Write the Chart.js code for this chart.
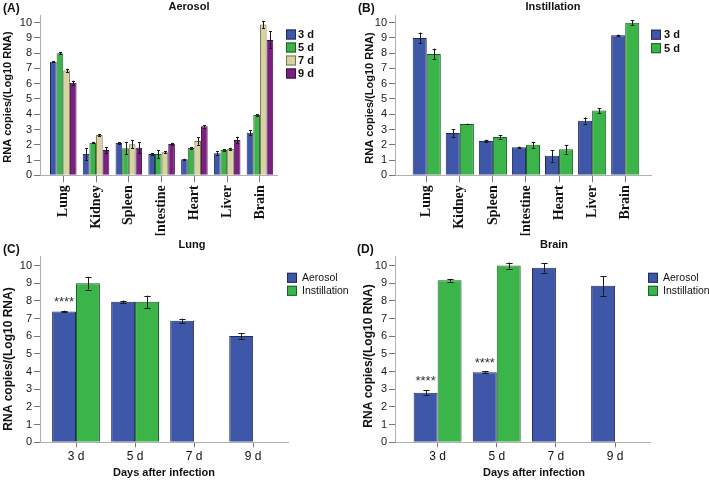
<!DOCTYPE html>
<html><head><meta charset="utf-8">
<script src="https://cdn.jsdelivr.net/npm/chart.js@4.4.0/dist/chart.umd.min.js"></script>
<style>
html,body{margin:0;padding:0;background:#fff;}
#wrap{position:relative;width:709px;height:481px;overflow:hidden;background:#fff;}
canvas{position:absolute;left:0;top:0;}
</style></head><body>
<div id="wrap">
<canvas id="cA" width="709" height="481"></canvas>
<canvas id="cB" width="709" height="481"></canvas>
<canvas id="cC" width="709" height="481"></canvas>
<canvas id="cD" width="709" height="481"></canvas>
</div>
<script>
// ---------- data ----------
const organs = ['Lung', 'Kidney', 'Spleen', 'Intestine', 'Heart', 'Liver', 'Brain'];
const dayLabels = ['3 d', '5 d', '7 d', '9 d'];
const yTicks = [0, 1, 2, 3, 4, 5, 6, 7, 8, 9, 10];

// (A) Aerosol, per organ
const aerosol3d = [7.44, 1.40, 2.12, 1.40, 1.05, 1.44, 2.79];
const aerosol5d = [7.99, 2.14, 1.77, 1.40, 1.79, 1.66, 3.95];
const aerosol7d = [6.86, 2.64, 2.03, 1.51, 2.25, 1.72, 9.87];
const aerosol9d = [6.07, 1.66, 1.81, 2.05, 3.21, 2.31, 8.87];
const aerosol3dErr = [0.05, 0.38, 0.04, 0.06, 0.03, 0.13, 0.15];
const aerosol5dErr = [0.07, 0.05, 0.38, 0.25, 0.04, 0.04, 0.05];
const aerosol7dErr = [0.12, 0.06, 0.25, 0.05, 0.25, 0.08, 0.25];
const aerosol9dErr = [0.13, 0.17, 0.35, 0.08, 0.08, 0.22, 0.55];

// (B) Instillation, per organ
const instill3d = [9.00, 2.77, 2.25, 1.83, 1.28, 3.58, 9.17];
const instill5d = [7.95, 3.36, 2.51, 2.00, 1.70, 4.24, 10.00];
const instill3dErr = [0.35, 0.26, 0.08, 0.05, 0.38, 0.20, 0.05];
const instill5dErr = [0.35, 0.03, 0.12, 0.20, 0.28, 0.15, 0.15];

// (C) Lung, per day
const lungAerosol = [7.40, 7.95, 6.87, 6.02];
const lungAerosolErr = [0.05, 0.07, 0.13, 0.17];
const lungInstill = [9.00, 7.95, null, null];
const lungInstillErr = [0.36, 0.35, null, null];
const lungSig = ['****', '', '', ''];

// (D) Brain, per day
const brainAerosol = [2.81, 3.97, 9.87, 8.85];
const brainAerosolErr = [0.15, 0.05, 0.27, 0.55];
const brainInstill = [9.17, 10.00, null, null];
const brainInstillErr = [0.08, 0.17, null, null];
const brainSig = ['****', '****', '', ''];

// ---------- styles ----------
const SANS = "'Liberation Sans', Arial, Helvetica, sans-serif";
const SERIF = "'Liberation Serif', 'Times New Roman', serif";
Chart.defaults.font.family = SANS;
const COL = {blue: '#3f57a8', green: '#3bb54a', tan: '#d8d3a1', purple: '#7b1f80'};
const BRD = {blue: '#1f2b5c', green: '#1e5f28', tan: '#77734f', purple: '#3d0e40'};
const CW = 709, CH = 481;

const overlay = {
  id: 'overlay',
  afterDatasetsDraw(chart) {
    const ctx = chart.ctx, yS = chart.scales.y;
    chart.data.datasets.forEach((ds, di) => {
      const meta = chart.getDatasetMeta(di);
      meta.data.forEach((bar, j) => {
        const pt = ds.data[j];
        const e = ds.errors ? ds.errors[pt.x] : null;
        let top = pt.y;
        if (e) {
          const yT = yS.getPixelForValue(pt.y + e), yB = yS.getPixelForValue(pt.y - e);
          const cap = Math.max(1.5, bar.width * 0.13);
          const x = Math.round(bar.x) + 0.5;
          ctx.save();
          ctx.strokeStyle = '#1a1a1a'; ctx.lineWidth = 1;
          ctx.beginPath();
          ctx.moveTo(x, yT); ctx.lineTo(x, yB);
          ctx.moveTo(x - cap, Math.round(yT) + 0.5); ctx.lineTo(x + cap, Math.round(yT) + 0.5);
          ctx.moveTo(x - cap, Math.round(yB) + 0.5); ctx.lineTo(x + cap, Math.round(yB) + 0.5);
          ctx.stroke();
          ctx.restore();
          top = pt.y + e;
        }
        if (ds.sig && ds.sig[pt.x]) {
          const py = yS.getPixelForValue(top) - 12;
          ctx.save();
          ctx.font = '13px ' + SANS; ctx.fillStyle = '#333';
          ctx.textAlign = 'center'; ctx.textBaseline = 'alphabetic';
          ctx.fillText(ds.sig[pt.x], bar.x, py + 7.4);
          ctx.restore();
        }
      });
    });
  },
  afterDraw(chart) {
    const p = chart.options.plugins.overlay, ctx = chart.ctx;
    (p.texts || []).forEach(t => {
      ctx.save();
      ctx.font = t.font; ctx.fillStyle = t.color || '#111';
      ctx.textAlign = t.align || 'center'; ctx.textBaseline = 'middle';
      ctx.translate(t.x, t.y);
      if (t.rot) ctx.rotate(t.rot);
      ctx.fillText(t.text, 0, 0);
      ctx.restore();
    });
    const lg = p.legend;
    if (lg) {
      chart.data.datasets.forEach((ds, i) => {
        const cy = lg.y + i * lg.dy;
        ctx.save();
        ctx.fillStyle = ds.backgroundColor;
        ctx.fillRect(lg.x, cy - lg.size / 2, lg.size, lg.size);
        ctx.strokeStyle = ds.borderColor; ctx.lineWidth = 1;
        ctx.strokeRect(lg.x + 0.5, cy - lg.size / 2 + 0.5, lg.size - 1, lg.size - 1);
        ctx.font = lg.font; ctx.fillStyle = '#111';
        ctx.textAlign = 'left'; ctx.textBaseline = 'middle';
        ctx.fillText(ds.label, lg.tx, cy + 0.5);
        ctx.restore();
      });
    }
  }
};

function makePanel(id, p) {
  const yW = 40;
  const datasets = p.series.map(s => ({
    label: s.label,
    data: s.values.map((v, i) => ({x: i, y: v})).filter(d => d.y !== null),
    errors: s.errors,
    sig: s.sig,
    backgroundColor: s.color,
    borderColor: s.border,
    borderWidth: 1,
    categoryPercentage: p.catPct,
    barPercentage: 1
  }));
  return new Chart(document.getElementById(id), {
    type: 'bar',
    data: {datasets},
    plugins: [overlay],
    options: {
      responsive: false,
      animation: false,
      layout: {padding: {left: p.area.left - yW, top: p.area.top, right: CW - p.area.right, bottom: CH - p.area.bottom - p.xH}},
      plugins: {
        legend: {display: false},
        tooltip: {enabled: false},
        title: {display: false},
        overlay: {texts: p.texts, legend: p.legend}
      },
      scales: {
        x: {
          type: 'linear',
          offset: false,
          min: p.xmin, max: p.xmax,
          afterBuildTicks: s => { s.ticks = p.labels.map((l, i) => ({value: i})); },
          afterFit: s => { s.height = p.xH; },
          grid: {display: true, offset: false, drawOnChartArea: false, drawTicks: true, tickLength: p.xTickLen, color: '#777'},
          border: {display: true, color: '#b0b0b0', width: 1},
          ticks: {
            autoSkip: false,
            minRotation: p.rot, maxRotation: p.rot,
            padding: p.xPad,
            color: '#111',
            font: p.xFont,
            callback: v => p.labels[v]
          }
        },
        y: {
          min: 0, max: 10.5,
          afterBuildTicks: s => { s.ticks = yTicks.map(v => ({value: v})); },
          afterFit: s => { s.width = yW; },
          grid: {display: true, drawOnChartArea: false, drawTicks: true, tickLength: 6, color: '#777'},
          border: {display: true, color: '#b0b0b0', width: 1},
          ticks: {autoSkip: false, padding: 2, color: '#1a1a1a', font: {size: 11, family: SANS}}
        }
      }
    }
  });
}

const UP = -Math.PI / 2;

makePanel('cA', {
  labels: organs,
  area: {left: 40, top: 15, right: 277, bottom: 175.3},
  xmin: -0.71, xmax: 6.52, catPct: 0.81, xH: 60, rot: 90, xTickLen: 7, xPad: 3,
  xFont: {size: 14, weight: 'bold', family: SERIF},
  series: [
    {label: '3 d', values: aerosol3d, errors: aerosol3dErr, color: COL.blue, border: BRD.blue},
    {label: '5 d', values: aerosol5d, errors: aerosol5dErr, color: COL.green, border: BRD.green},
    {label: '7 d', values: aerosol7d, errors: aerosol7dErr, color: COL.tan, border: BRD.tan},
    {label: '9 d', values: aerosol9d, errors: aerosol9dErr, color: COL.purple, border: BRD.purple}
  ],
  texts: [
    {text: '(A)', x: 3, y: 8.5, font: 'bold 12px ' + SANS, align: 'left'},
    {text: 'Aerosol', x: 189, y: 6.5, font: 'bold 11px ' + SANS},
    {text: 'RNA copies/(Log10 RNA)', x: 7.5, y: 97, font: 'bold 11px ' + SANS, rot: UP}
  ],
  legend: {x: 286, y: 34.5, dy: 13, size: 10, tx: 298, font: 'bold 11px ' + SANS}
});

makePanel('cB', {
  labels: organs,
  area: {left: 395, top: 15, right: 651, bottom: 175.3},
  xmin: -0.96, xmax: 6.78, catPct: 0.85, xH: 60, rot: 90, xTickLen: 7, xPad: 3,
  xFont: {size: 14, weight: 'bold', family: SERIF},
  series: [
    {label: '3 d', values: instill3d, errors: instill3dErr, color: COL.blue, border: BRD.blue},
    {label: '5 d', values: instill5d, errors: instill5dErr, color: COL.green, border: BRD.green}
  ],
  texts: [
    {text: '(B)', x: 358, y: 8.5, font: 'bold 12px ' + SANS, align: 'left'},
    {text: 'Instillation', x: 553, y: 6.5, font: 'bold 11px ' + SANS},
    {text: 'RNA copies/(Log10 RNA)', x: 370, y: 98, font: 'bold 11px ' + SANS, rot: UP}
  ],
  legend: {x: 651, y: 34.7, dy: 13.5, size: 10, tx: 664, font: 'bold 11px ' + SANS}
});

makePanel('cC', {
  labels: dayLabels,
  area: {left: 40, top: 256.7, right: 288, bottom: 442.3},
  xmin: -0.61, xmax: 3.59, catPct: 0.81, xH: 30, rot: 0, xTickLen: 5, xPad: 2,
  xFont: {size: 12, family: SANS},
  series: [
    {label: 'Aerosol', values: lungAerosol, errors: lungAerosolErr, sig: lungSig, color: COL.blue, border: BRD.blue},
    {label: 'Instillation', values: lungInstill, errors: lungInstillErr, color: COL.green, border: BRD.green}
  ],
  texts: [
    {text: '(C)', x: 3, y: 250, font: 'bold 12px ' + SANS, align: 'left'},
    {text: 'Lung', x: 192, y: 244.5, font: 'bold 11px ' + SANS},
    {text: 'Days after infection', x: 164, y: 472.7, font: 'bold 11px ' + SANS},
    {text: 'RNA copies/(Log10 RNA)', x: 8.7, y: 359, font: 'bold 12px ' + SANS, rot: UP}
  ],
  legend: {x: 287, y: 277.8, dy: 13, size: 10, tx: 302, font: '10.5px ' + SANS}
});

makePanel('cD', {
  labels: dayLabels,
  area: {left: 395, top: 256.7, right: 650, bottom: 442.3},
  xmin: -0.72, xmax: 3.59, catPct: 0.81, xH: 30, rot: 0, xTickLen: 5, xPad: 2,
  xFont: {size: 12, family: SANS},
  series: [
    {label: 'Aerosol', values: brainAerosol, errors: brainAerosolErr, sig: brainSig, color: COL.blue, border: BRD.blue},
    {label: 'Instillation', values: brainInstill, errors: brainInstillErr, color: COL.green, border: BRD.green}
  ],
  texts: [
    {text: '(D)', x: 357, y: 250, font: 'bold 12px ' + SANS, align: 'left'},
    {text: 'Brain', x: 554, y: 244.5, font: 'bold 11px ' + SANS},
    {text: 'Days after infection', x: 534, y: 472.7, font: 'bold 11px ' + SANS},
    {text: 'RNA copies/(Log10 RNA)', x: 368.3, y: 356, font: 'bold 12px ' + SANS, rot: UP}
  ],
  legend: {x: 648, y: 277.8, dy: 13, size: 10, tx: 663, font: '10.5px ' + SANS}
});
</script>
</body></html>
